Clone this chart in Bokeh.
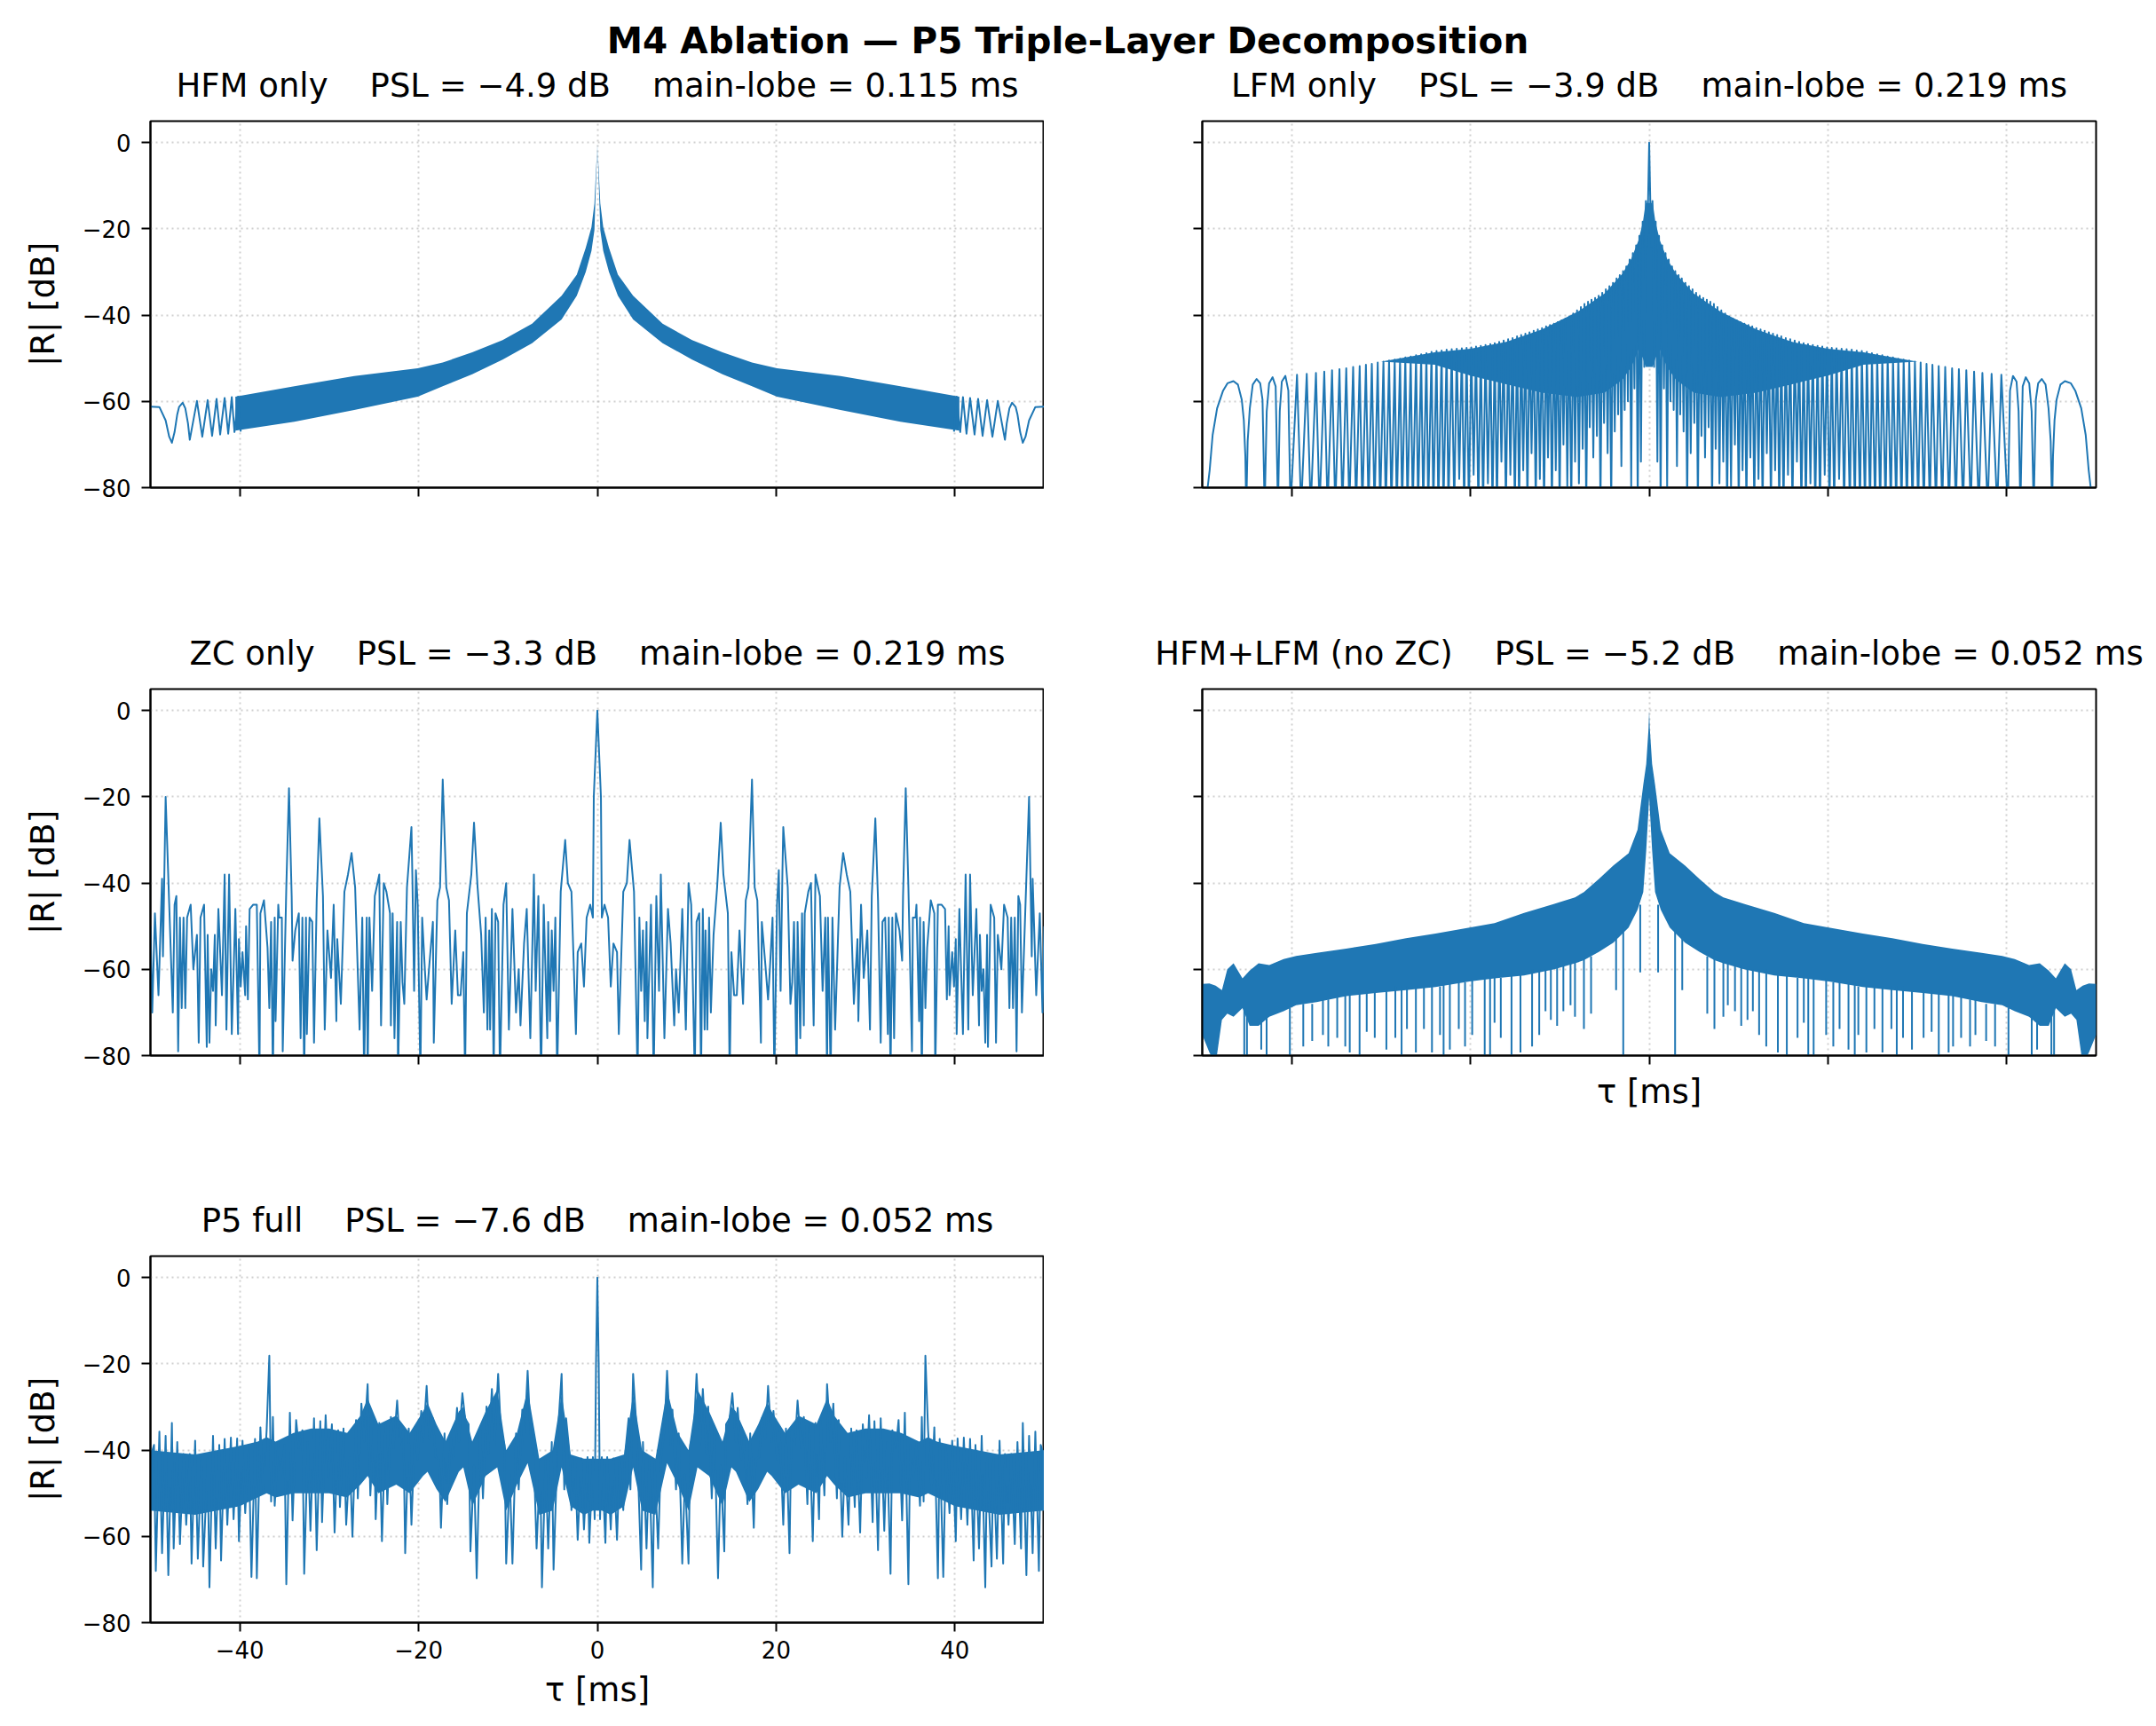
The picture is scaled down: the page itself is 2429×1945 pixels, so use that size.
from bokeh.plotting import figure
from bokeh.layouts import column, row
from bokeh.models import Range1d, FixedTicker, Div, Spacer
from bokeh.embed import file_html
from bokeh.resources import INLINE

# ---- HFM only: separate side lobes near the edges, dense band towards the centre
hfm_lobe_tau = [-50.0, -49.0, -48.3, -47.9, -47.6, -47.3, -47.0, -46.8, -46.4, -46.1, -45.8, -45.6,
                -44.8, -44.2, -43.6, -43.1, -42.6, -42.2, -41.7, -41.3, -40.9, -40.6, -40.2, -39.9]
hfm_lobe_db = [-61.2, -61.3, -64.4, -68.2, -69.6, -67.1, -63.0, -61.3, -60.3, -61.6, -65.1, -68.9,
               -59.9, -68.2, -59.7, -68.0, -59.4, -67.7, -59.2, -67.5, -59.0, -67.1, -58.9, -67.0]
hfm_band_tau = [-40.5, -33.9, -27.2, -20.1, -17.3, -14.0, -10.6, -7.3, -4.0, -2.3, -1.3, -0.66, -0.33, 0.0]
hfm_band_hi = [-58.9, -56.5, -54.1, -52.3, -51.0, -48.6, -45.8, -42.0, -35.5, -30.6, -24.4, -19.6, -14.1, 0.0]
hfm_band_lo = [-66.8, -64.7, -62.0, -58.9, -56.5, -53.7, -50.3, -46.5, -41.0, -35.5, -30.0, -25.1, -20.3, 0.0]

# ---- LFM only: wide arches at the edge, then peak / null pairs, solid core near the centre
lfm_edge_tau = [-49.4, -49.17, -48.84, -48.34, -47.67, -47.18, -46.51, -46.01, -45.58, -45.35, -45.18, -45.08,
                -44.92, -44.68, -44.35, -43.92, -43.52, -43.26, -43.02,
                -42.79, -42.52, -42.13, -41.79, -41.53,
                -41.33, -41.10, -40.70, -40.37, -40.13]
lfm_edge_db = [-80.0, -75.9, -67.8, -61.6, -57.5, -55.8, -55.3, -56.1, -59.6, -64.4, -72.7, -85.0,
               -69.2, -61.6, -56.1, -54.8, -55.8, -59.6, -85.0,
               -62.3, -55.8, -54.4, -56.5, -85.0,
               -62.3, -55.4, -54.1, -57.5, -85.0]
lfm_peak_tau = [-39.40, -38.31, -37.28, -36.35, -35.48, -34.65, -33.89, -33.12, -32.39, -31.69,
                -31.03, -30.37, -29.73, -29.10, -28.47, -27.87, -27.28, -26.68, -26.08, -25.51,
                -24.92, -24.35, -23.79, -23.22, -22.66,
                -22.09, -21.53, -20.96, -20.43, -19.90, -19.37, -18.84, -18.31, -17.77, -17.28,
                -16.78, -16.28, -15.78, -15.28, -14.78, -14.32, -13.85, -13.39, -12.92, -12.46,
                -11.99, -11.53, -11.10, -10.66, -10.23, -9.80, -9.37, -8.94, -8.50, -8.07,
                -7.64, -7.24, -6.84, -6.45, -6.05, -5.65, -5.25, -4.85, -4.45, -4.05,
                -3.65, -3.29, -2.92, -2.56, -2.19, -1.83, -1.46, -1.10, -0.73, -0.37]
lfm_peak_db = [-53.8, -53.6, -53.4, -53.1, -52.8, -52.5, -52.3, -52.0, -51.8, -51.5,
               -51.3, -51.0, -50.8, -50.5, -50.3, -50.1, -49.8, -49.6, -49.3, -49.1,
               -48.8, -48.5, -48.3, -48.2, -48.0,
               -47.9, -47.8, -47.7, -47.6, -47.5, -47.3, -47.1, -46.9, -46.7, -46.5,
               -46.2, -45.9, -45.6, -45.3, -44.9, -44.6, -44.3, -44.0, -43.6, -43.3,
               -43.0, -42.6, -42.3, -42.0, -41.6, -41.2, -40.8, -40.3, -39.6, -38.9,
               -38.1, -37.4, -36.9, -36.4, -36.0, -35.5, -34.8, -34.0, -33.3, -32.5,
               -31.5, -30.7, -29.8, -28.7, -27.1, -25.6, -23.8, -21.6, -18.3, -13.5]
lfm_null_tau = [-38.94, -37.87, -36.88, -35.98, -35.12, -34.32, -33.55, -32.79, -32.09, -31.40,
                -30.73, -30.10, -29.47, -28.84, -28.24, -27.64, -27.04, -26.45, -25.85, -25.28,
                -24.72, -24.15, -23.59, -23.02, -22.46,
                -21.81, -21.25, -20.70, -20.17, -19.64, -19.11, -18.58, -18.04, -17.53, -17.03,
                -16.53, -16.03, -15.53, -15.03, -14.55, -14.09, -13.62, -13.16, -12.69, -12.23,
                -11.76, -11.32, -10.88, -10.45, -10.02, -9.59, -9.16, -8.72, -8.29, -7.86,
                -7.44, -7.04, -6.65, -6.25, -5.85, -5.45, -5.05, -4.65, -4.25, -3.85,
                -3.47, -3.11, -2.74, -2.38, -2.01, -1.65, -1.28, -0.92, -0.55]
lfm_null_db = [-85, -85, -85, -85, -85, -85, -85, -85, -85, -85,
               -85, -85, -85, -85, -85, -85, -85, -85, -85, -85,
               -85, -85, -85, -85, -85,
               -85, -78, -85, -85, -77, -85, -85, -79, -85, -85,
               -74, -85, -77, -85, -85, -76, -85, -72, -85, -78,
               -85, -73, -85, -76, -85, -70, -80, -85, -74, -79,
               -71, -85, -66, -73, -68, -85, -65, -72, -85, -67,
               -63, -75, -62, -60, -80, -57, -85, -74, -52]
lfm_centre_tau = [-0.22, 0.0]
lfm_centre_db = [-24.0, 0.0]
lfm_core_tau = [-30.0, -24.0, -20.0, -16.0, -12.0, -8.0, -5.0, -3.0, -2.0, -1.2, -0.7, -0.4, 0.0]
lfm_core_hi = [-50.8, -48.6, -47.8, -46.2, -43.3, -39.2, -35.0, -30.4, -26.9, -22.7, -18.4, -14.0, -14.0]
lfm_core_lo = [-50.8, -51.5, -54.0, -56.0, -58.0, -59.0, -58.0, -55.0, -52.0, -48.0, -50.0, -52.0, -52.0]

# ---- ZC only
zc_tau = [-50.0, -49.8, -49.5, -49.1, -48.7, -48.6, -48.3, -47.5, -47.3, -47.1,
          -46.9, -46.7, -46.5, -46.3, -46.1, -45.9, -45.5, -45.2, -44.8, -44.6,
          -44.4, -44.0, -43.7, -43.6, -43.4, -43.2, -43.0, -42.8, -42.7, -42.4,
          -42.0, -41.7, -41.5, -41.2, -40.9, -40.5, -40.2, -40.1, -39.9, -39.7,
          -39.4, -39.3, -39.1, -38.9, -38.5, -38.1, -37.8, -37.7, -37.3, -36.9,
          -36.7, -36.5, -36.3, -36.1, -36.0, -35.7, -35.6, -35.3, -35.2, -34.8,
          -34.5, -34.2, -34.1, -33.8, -33.4, -33.2, -33.0, -32.8, -32.6, -32.5,
          -32.2, -31.9, -31.7, -31.4, -31.1, -30.7, -30.5, -30.2, -29.8, -29.5,
          -29.2, -29.1, -28.7, -28.3, -27.9, -27.5, -27.1, -26.6, -26.3, -26.1,
          -25.8, -25.7, -25.5, -25.2, -24.9, -24.4, -24.2, -23.9, -23.6, -23.2,
          -23.1, -22.9, -22.7, -22.4, -22.3, -22.0, -21.8, -21.6, -21.3, -20.8,
          -20.7, -20.5, -20.3, -20.1, -19.8, -19.6, -19.3, -19.1, -18.8, -18.4,
          -18.3, -17.9, -17.6, -17.3, -16.9, -16.6, -16.3, -15.9, -15.6, -15.3,
          -15.0, -14.8, -14.6, -14.1, -13.8, -13.4, -13.0, -12.7, -12.5, -12.3,
          -12.1, -12.0, -11.8, -11.6, -11.4, -11.1, -10.9, -10.5, -10.2, -9.9,
          -9.5, -9.1, -8.8, -8.6, -8.2, -7.9, -7.5, -7.1, -6.9, -6.6,
          -6.3, -6.0, -5.6, -5.5, -5.3, -5.1, -4.9, -4.7, -4.5, -4.1,
          -3.6, -3.3, -2.9, -2.4, -2.2, -1.8, -1.5, -1.2, -0.8, -0.5,
          -0.4, 0.0]
zc_db = [-50, -70, -47, -66, -39, -57, -20, -70, -45, -43,
         -79, -48, -69, -48, -69, -48, -45, -60, -52, -77,
         -48, -45, -78, -52, -77, -60, -65, -52, -73, -46,
         -66, -38, -74, -38, -75, -46, -75, -53, -64, -56,
         -66, -50, -67, -46, -45, -45, -85, -47, -44, -55,
         -69, -49, -85, -48, -72, -45, -48, -48, -79, -41,
         -18, -43, -58, -51, -47, -76, -48, -85, -48, -75,
         -48, -49, -77, -44, -25, -43, -74, -51, -62, -45,
         -72, -53, -68, -42, -38, -33, -41, -74, -48, -85,
         -48, -85, -48, -65, -43, -38, -73, -40, -42, -47,
         -73, -47, -76, -49, -85, -49, -63, -68, -41, -27,
         -38, -65, -37, -45, -85, -48, -60, -67, -59, -49,
         -77, -44, -41, -16, -41, -44, -68, -51, -66, -66,
         -56, -85, -47, -38, -26, -41, -52, -70, -48, -74,
         -51, -74, -46, -85, -47, -49, -85, -45, -40, -74,
         -46, -70, -60, -73, -54, -46, -76, -38, -65, -43,
         -85, -45, -76, -49, -72, -51, -65, -48, -85, -42,
         -30, -40, -42, -75, -56, -54, -64, -48, -45, -48,
         -20, 0]

# ---- HFM+LFM (no ZC): solid core band plus the deeper spikes below it
hl_band_tau = [-50.0, -49.2, -48.5, -47.8, -47.2, -46.5, -45.5, -44.7, -43.7, -42.5,
               -40.9, -39.5, -37.2, -33.9, -30.6, -27.2, -23.9, -20.1, -17.3, -14.0,
               -10.6, -8.3, -7.3, -5.6, -4.0, -2.3, -1.3, -0.66, -0.33, -0.07, 0.0]
hl_band_hi = [-63.4, -63.3, -63.8, -64.8, -60.0, -58.6, -62.1, -60.3, -58.6, -59.0,
              -57.6, -56.9, -56.2, -55.2, -54.1, -52.8, -51.7, -50.3, -49.3, -46.9,
              -44.8, -43.3, -42.1, -39.0, -35.9, -33.1, -27.6, -17.2, -12.4, -4.1, 0.0]
hl_band_lo = [-75.2, -79.3, -82.0, -71.7, -70.3, -71.0, -69.0, -73.1, -73.1, -71.0,
              -69.7, -68.3, -67.6, -66.2, -65.5, -64.8, -64.1, -62.8, -62.1, -61.4,
              -60.0, -58.6, -57.9, -55.9, -53.8, -50.3, -46.2, -42.1, -32.4, -22.8, -20.0]
hl_spike_tau = [-45.3, -45.0, -43.4, -42.8, -40.2, -38.7, -37.7, -36.5, -35.9, -34.9,
                -34.0, -33.5, -32.4, -31.6, -30.7, -29.4, -28.4, -27.7, -27.1, -26.1,
                -25.2, -24.3, -23.4, -23.0, -22.3, -21.3, -20.6, -19.8, -18.4, -17.8,
                -17.3, -16.6, -15.4, -14.4, -13.1, -12.3, -11.6, -11.0, -10.3, -9.6,
                -8.8, -8.3, -7.3, -6.5, -3.7, -2.9, -1.0]
hl_spike_top = [-69, -70, -72, -71, -69, -68, -68, -67, -67, -66,
                -66, -66, -65, -65, -65, -65, -64, -64, -64, -64,
                -64, -64, -64, -63, -63, -63, -63, -62, -62, -62,
                -62, -62, -61, -61, -60, -60, -60, -60, -59, -59,
                -58, -58, -57, -57, -52, -50, -45]
hl_spike_bot = [-82, -82, -78.6, -82, -82, -77.9, -76.6, -75.2, -77.9, -75.9,
                -77.9, -79.3, -82, -74.5, -75.9, -78.6, -75.9, -82, -73.8, -79.3,
                -73.8, -79.3, -75.2, -82, -78.6, -73.8, -77.9, -75.2, -82, -82,
                -72.4, -75.9, -82, -79.3, -77.9, -75.2, -69.7, -71.7, -73.1, -69.7,
                -68.3, -71.0, -73.8, -70.3, -64.8, -82, -60.7]

# ---- P5 full: the trace plus the solid core it fills in
p5_tau = [-50.0, -49.6, -49.4, -49.0, -48.7, -48.3, -48.0, -47.6, -47.4, -47.0,
          -46.7, -46.3, -46.0, -45.6, -45.4, -45.0, -44.7, -44.3, -44.1, -43.6,
          -43.4, -43.0, -42.7, -42.3, -42.1, -41.7, -41.4, -41.0, -40.7, -40.3,
          -40.1, -39.7, -39.4, -39.0, -38.7, -38.3, -38.1, -37.7, -37.4, -37.0,
          -36.7, -36.5, -36.3, -36.1, -35.7, -35.4, -35.0, -34.8, -34.4, -34.1,
          -33.7, -33.4, -33.0, -32.8, -32.4, -32.1, -31.7, -31.4, -31.0, -30.8,
          -30.4, -30.1, -29.7, -29.4, -29.0, -28.8, -28.4, -28.1, -27.7, -27.4,
          -27.0, -26.8, -26.4, -26.1, -25.7, -25.4, -25.0, -24.8, -24.4, -24.1,
          -23.7, -23.5, -23.1, -22.8, -22.4, -22.1, -21.7, -21.5, -21.1, -20.8,
          -20.4, -20.1, -19.7, -19.5, -19.1, -18.8, -18.4, -18.1, -17.7, -17.5,
          -17.1, -16.8, -16.4, -16.1, -15.7, -15.5, -15.1, -14.8, -14.4, -14.2,
          -13.8, -13.5, -13.1, -12.8, -12.4, -12.2, -11.8, -11.5, -11.1, -10.8,
          -10.4, -10.2, -9.8, -9.5, -9.1, -8.8, -8.4, -8.2, -7.8, -7.5,
          -7.1, -6.8, -6.4, -6.2, -5.8, -5.5, -5.1, -4.9, -4.4, -4.0,
          -3.7, -3.5, -3.1, -2.9, -2.5, -2.2, -1.8, -1.5, -1.1, -0.9,
          -0.5, -0.3, -0.15, 0.0]
p5_db = [-41.5, -38.8, -68.0, -35.7, -63.9, -36.7, -69.0, -33.7, -62.8, -38.1,
         -61.8, -40.9, -57.3, -40.9, -66.3, -37.8, -65.2, -41.6, -67.0, -41.9,
         -71.8, -36.7, -62.8, -38.8, -65.6, -37.4, -57.3, -37.1, -56.0, -37.3,
         -61.1, -37.8, -54.6, -39.5, -69.4, -37.4, -69.7, -34.7, -49.8, -35.4,
         -18.1, -51.9, -32.3, -52.9, -38.1, -46.4, -38.8, -71.1, -31.3, -56.3,
         -33.0, -39.5, -35.4, -68.7, -38.1, -58.7, -32.6, -63.2, -33.3, -56.7,
         -31.9, -46.4, -34.0, -59.1, -35.4, -53.2, -35.0, -57.3, -41.6, -60.1,
         -33.0, -51.2, -29.2, -38.1, -24.7, -50.5, -33.3, -56.0, -33.7, -61.1,
         -34.0, -52.5, -32.3, -39.5, -28.5, -38.8, -35.4, -63.9, -35.0, -57.3,
         -34.7, -42.2, -30.9, -38.1, -25.1, -37.4, -32.6, -41.6, -42.2, -58.0,
         -36.1, -52.5, -37.1, -42.2, -30.2, -38.1, -26.8, -32.6, -34.0, -63.5,
         -43.6, -69.7, -35.4, -51.2, -29.9, -40.9, -25.8, -38.8, -22.3, -35.4,
         -38.8, -66.3, -45.7, -66.3, -36.1, -49.1, -30.6, -38.8, -21.6, -35.4,
         -42.2, -62.8, -42.6, -71.8, -42.2, -62.8, -38.1, -67.7, -35.4, -22.3,
         -49.1, -32.6, -40.9, -53.9, -41.6, -60.8, -41.9, -58.4, -41.6, -61.5,
         -41.6, -56.0, -20.0, 0.0]
p5_core_tau = [-50.0, -45.0, -40.0, -38.0, -37.0, -36.0, -34.0, -32.0, -30.0, -28.0,
               -26.5, -25.7, -24.5, -22.5, -21.0, -19.5, -19.0, -18.0, -17.0, -15.5,
               -15.0, -14.0, -12.5, -11.2, -10.2, -9.0, -7.8, -6.5, -5.0, -4.0,
               -3.0, -1.5, -0.5, 0.0]
p5_core_hi = [-40, -41, -39, -38, -37, -38, -36, -35, -35, -36,
              -32, -28, -34, -32, -36, -31, -29, -34, -38, -31,
              -30, -38, -31, -26, -40, -36, -26, -42, -40, -27,
              -41, -42, -42, -42]
p5_core_lo = [-54, -55, -53, -51, -50, -51, -50, -50, -50, -51,
              -48, -46, -50, -48, -50, -46, -45, -49, -52, -45,
              -44, -53, -46, -44, -54, -48, -43, -55, -54, -44,
              -53, -55, -54, -54]

x_ticks = [-40, -20, 0, 20, 40]
y_ticks = [-80, -60, -40, -20, 0]

BLUE = "#1f77b4"
FONT = "DejaVu Sans"
SEP = " \u00a0\u00a0 "


def mirror(tau_half, val_half):
    tau = list(tau_half) + [-t for t in reversed(tau_half[:-1])]
    val = list(val_half) + list(reversed(val_half[:-1]))
    return tau, val


def interleave(a, b):
    out = []
    for i, v in enumerate(a):
        out.append(v)
        if i < len(b):
            out.append(b[i])
    return out


def minus(v):
    return str(v).replace("-", "\u2212")


def make_panel(title, left, right, top, bottom, xlabels=False, ylabels=False, xlabel=None, ylabel=None):
    p = figure(frame_width=1007, frame_height=413, x_range=Range1d(-50, 50), y_range=Range1d(-80, 5),
               output_backend="svg", toolbar_location=None, title=title,
               min_border_left=left, min_border_right=right, min_border_top=top, min_border_bottom=bottom)
    # transparent surround so the suptitle above is never painted over
    p.border_fill_color = None
    p.title.text_font = FONT
    p.title.text_font_size = "37px"
    p.title.text_font_style = "normal"
    p.title.text_color = "black"
    p.title.align = "center"
    p.title.standoff = 38

    p.outline_line_color = "black"
    p.outline_line_width = 2
    p.outline_line_alpha = 1

    p.xaxis.ticker = FixedTicker(ticks=x_ticks)
    p.yaxis.ticker = FixedTicker(ticks=y_ticks)
    for ax in (p.xaxis, p.yaxis):
        ax.axis_line_width = 2
        ax.axis_line_color = "black"
        ax.major_tick_in = 0
        ax.major_tick_out = 10
        ax.major_tick_line_width = 2
        ax.minor_tick_line_color = None
        ax.major_label_text_font = FONT
        ax.major_label_text_font_size = "26px"
        ax.major_label_text_color = "black"
        ax.axis_label_text_font = FONT
        ax.axis_label_text_font_size = "37px"
        ax.axis_label_text_font_style = "normal"
        ax.axis_label_text_color = "black"

    if xlabels:
        p.xaxis.major_label_overrides = {t: minus(t) for t in x_ticks}
        p.xaxis.major_label_standoff = 10
    else:
        p.xaxis.major_label_overrides = {t: "" for t in x_ticks}
        p.xaxis.major_label_text_font_size = "0px"
        p.xaxis.major_label_standoff = 0
    if ylabels:
        p.yaxis.major_label_overrides = {t: minus(t) for t in y_ticks}
        p.yaxis.major_label_standoff = 12
    else:
        p.yaxis.major_label_overrides = {t: "" for t in y_ticks}
        p.yaxis.major_label_text_font_size = "0px"
        p.yaxis.major_label_standoff = 0
    if xlabel:
        p.xaxis.axis_label = xlabel
        p.xaxis.axis_label_standoff = 11
    if ylabel:
        p.yaxis.axis_label = ylabel
        p.yaxis.axis_label_standoff = 20

    p.grid.grid_line_color = "#b0b0b0"
    p.grid.grid_line_alpha = 0.6
    p.grid.grid_line_width = 2
    p.grid.grid_line_dash = "2 4"
    return p


# HFM only
p1 = make_panel("HFM only" + SEP + "PSL = \u22124.9 dB" + SEP + "main-lobe = 0.115 ms",
                169, 0, 78, 40, ylabels=True, ylabel="|R| [dB]")
bt, bh = mirror(hfm_band_tau, hfm_band_hi)
_, bl = mirror(hfm_band_tau, hfm_band_lo)
p1.varea(x=bt, y1=bl, y2=bh, fill_color=BLUE)
p1.line(hfm_lobe_tau, hfm_lobe_db, line_color=BLUE, line_width=2, line_join="round")
p1.line([-t for t in hfm_lobe_tau], hfm_lobe_db, line_color=BLUE, line_width=2, line_join="round")

# LFM only
p2 = make_panel("LFM only" + SEP + "PSL = \u22123.9 dB" + SEP + "main-lobe = 0.219 ms",
                178, 60, 78, 40)
ct, ch = mirror(lfm_core_tau, lfm_core_hi)
_, cl = mirror(lfm_core_tau, lfm_core_lo)
p2.varea(x=ct, y1=cl, y2=ch, fill_color=BLUE)
lfm_half_tau = lfm_edge_tau + interleave(lfm_peak_tau, lfm_null_tau) + lfm_centre_tau
lfm_half_db = lfm_edge_db + interleave(lfm_peak_db, lfm_null_db) + lfm_centre_db
lt, ld = mirror(lfm_half_tau, lfm_half_db)
p2.line(lt, ld, line_color=BLUE, line_width=2, line_join="round")

# ZC only
p3 = make_panel("ZC only" + SEP + "PSL = \u22123.3 dB" + SEP + "main-lobe = 0.219 ms",
                169, 0, 187, 80, ylabels=True, ylabel="|R| [dB]")
zt, zd = mirror(zc_tau, zc_db)
p3.line(zt, zd, line_color=BLUE, line_width=2, line_join="round")

# HFM+LFM (no ZC)
p4 = make_panel("HFM+LFM (no ZC)" + SEP + "PSL = \u22125.2 dB" + SEP + "main-lobe = 0.052 ms",
                178, 60, 187, 80, xlabel="\u03c4 [ms]")
p4.xaxis.axis_label_standoff = 9
ht, hh = mirror(hl_band_tau, hl_band_hi)
_, hlo = mirror(hl_band_tau, hl_band_lo)
p4.varea(x=ht, y1=hlo, y2=hh, fill_color=BLUE)
spike_tau = hl_spike_tau + [-t for t in hl_spike_tau]
p4.segment(x0=spike_tau, y0=hl_spike_top + hl_spike_top, x1=spike_tau, y1=hl_spike_bot + hl_spike_bot,
           line_color=BLUE, line_width=2)

# P5 full
p5 = make_panel("P5 full" + SEP + "PSL = \u22127.6 dB" + SEP + "main-lobe = 0.052 ms",
                169, 0, 146, 105, xlabels=True, ylabels=True, xlabel="\u03c4 [ms]", ylabel="|R| [dB]")
kt, kh = mirror(p5_core_tau, p5_core_hi)
_, kl = mirror(p5_core_tau, p5_core_lo)
p5.varea(x=kt, y1=kl, y2=kh, fill_color=BLUE)
pt, pd_ = mirror(p5_tau, p5_db)
p5.line(pt, pd_, line_color=BLUE, line_width=2, line_join="round")

suptitle = Div(text='<div style="padding-top:27px; line-height:28px; white-space:nowrap">'
                    'M4 Ablation \u2014 P5 Triple-Layer Decomposition</div>',
               width=2396, height=43,
               styles={"font-family": FONT, "font-size": "40.5px", "font-weight": "bold",
                       "text-align": "center", "color": "black", "overflow": "visible"})

layout = column(suptitle, row(p1, p2), row(p3, p4), row(p5, Spacer(width=1245, height=10)))

open("out.html", "w").write(file_html(layout, INLINE))
